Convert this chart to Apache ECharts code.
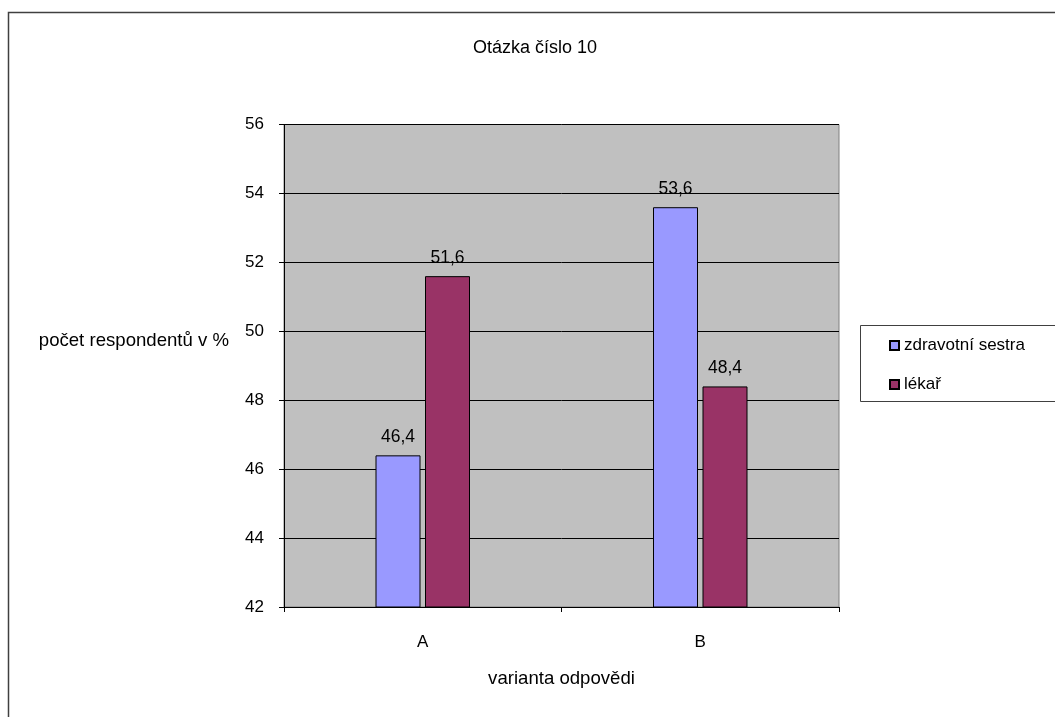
<!DOCTYPE html>
<html>
<head>
<meta charset="utf-8">
<title>Otázka číslo 10</title>
<script src="https://cdn.jsdelivr.net/npm/echarts@6/dist/echarts.min.js"></script>
<style>
  html, body { margin: 0; padding: 0; background: #ffffff; }
  #chart { width: 1055px; height: 717px; }
</style>
</head>
<body>
<div id="chart"></div>
<script>
// Answer variants on the category axis
const categories = ['A', 'B'];
// Share of respondents (%) per group
const seriesNames = ['zdravotní sestra', 'lékař'];
const nurseValues = [46.4, 53.6];
const doctorValues = [51.6, 48.4];
// Value axis range
const yMin = 42;
const yMax = 56;
const yStep = 2;

const FONT = '"Liberation Sans", Arial, sans-serif';
const TXT = { fontFamily: FONT, fontSize: 17, color: '#000000' };
const NAME_TXT = { fontFamily: FONT, fontSize: 18.6, color: '#000000' };

const fmtComma = (v) => String(v).replace('.', ',');

const chart = echarts.init(document.getElementById('chart'), null, { renderer: 'canvas' });

const barLabel = {
  show: true,
  position: 'top',
  distance: 9,
  fontFamily: FONT,
  fontSize: 17.5,
  color: '#000000',
  formatter: (p) => fmtComma(p.value)
};

chart.setOption({
  backgroundColor: '#ffffff',
  animation: false,
  title: {
    text: 'Otázka číslo 10',
    left: 530,
    textAlign: 'center',
    top: 34,
    textStyle: { fontFamily: FONT, fontSize: 18, color: '#000000', fontWeight: 'normal' }
  },
  graphic: [
    {
      // outer chart frame
      type: 'rect',
      z: -10,
      shape: { x: 8.5, y: 12.5, width: 1200, height: 900 },
      style: { fill: 'none', stroke: '#404040', lineWidth: 1.5 }
    },
    {
      // legend frame
      type: 'rect',
      z: -5,
      shape: { x: 860.5, y: 325.5, width: 300, height: 76 },
      style: { fill: '#ffffff', stroke: '#404040', lineWidth: 1 }
    }
  ],
  legend: {
    orient: 'vertical',
    left: 889,
    top: 337,
    padding: 0,
    itemWidth: 9,
    itemHeight: 9,
    itemGap: 22,
    itemTextGap: 5,
    icon: 'rect',
    textStyle: TXT,
    data: seriesNames
  },
  grid: {
    left: 284,
    top: 124.5,
    right: 216,
    bottom: 110,
    show: true,
    backgroundColor: '#C0C0C0',
    borderColor: '#808080',
    borderWidth: 1
  },
  xAxis: {
    type: 'category',
    data: categories,
    name: 'varianta odpovědi',
    nameLocation: 'middle',
    nameGap: 62,
    nameTextStyle: NAME_TXT,
    axisLine: { lineStyle: { color: '#000000', width: 1 } },
    axisTick: { show: true, length: 5, alignWithLabel: false, lineStyle: { color: '#000000' } },
    axisLabel: Object.assign({ margin: 27 }, TXT),
    splitLine: { show: false }
  },
  yAxis: {
    type: 'value',
    min: yMin,
    max: yMax,
    interval: yStep,
    name: 'počet respondentů v %',
    nameLocation: 'middle',
    nameRotate: 0,
    nameGap: 55,
    nameTextStyle: Object.assign({ verticalAlign: 'bottom', lineHeight: 50 }, NAME_TXT),
    axisLine: { show: true, lineStyle: { color: '#000000', width: 1 } },
    axisTick: { show: true, length: 5, lineStyle: { color: '#000000' } },
    axisLabel: Object.assign({ margin: 20 }, TXT),
    splitLine: { show: true, lineStyle: { color: '#000000', width: 1 } }
  },
  series: [
    {
      name: seriesNames[0],
      type: 'bar',
      data: nurseValues,
      barWidth: 45,
      barGap: '10%',
      itemStyle: { color: '#9999FF', borderColor: '#000000', borderWidth: 1 },
      label: barLabel
    },
    {
      name: seriesNames[1],
      type: 'bar',
      data: doctorValues,
      barWidth: 45,
      itemStyle: { color: '#993366', borderColor: '#000000', borderWidth: 1 },
      label: barLabel
    }
  ]
});
</script>
</body>
</html>
